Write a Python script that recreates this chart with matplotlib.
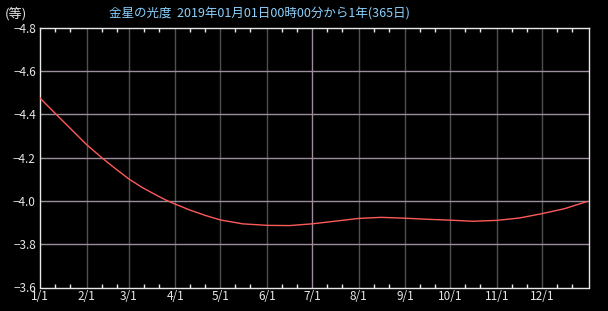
import numpy as np
import matplotlib
matplotlib.use("Agg")
import matplotlib.pyplot as plt

plt.rcParams['font.family'] = ['Noto Sans CJK JP', 'DejaVu Sans']

# day of year (0 = 1/1) and magnitude
days = [0, 10, 20, 31, 41, 50, 59, 68, 77, 84, 90, 100, 110, 120, 135,
        151, 166, 181, 196, 212, 227, 243, 258, 273, 288, 304, 319, 334,
        349, 364]
mag = [-4.475, -4.405, -4.336, -4.260, -4.200, -4.150, -4.102, -4.062,
       -4.028, -4.003, -3.985, -3.957, -3.933, -3.912, -3.894, -3.887,
       -3.886, -3.894, -3.906, -3.919, -3.924, -3.920, -3.915, -3.911,
       -3.906, -3.910, -3.921, -3.941, -3.964, -3.997]

month_days = [0, 31, 59, 90, 120, 151, 181, 212, 243, 273, 304, 334]
month_labels = ["1/1", "2/1", "3/1", "4/1", "5/1", "6/1", "7/1", "8/1",
                "9/1", "10/1", "11/1", "12/1"]
y_ticks = [-4.8, -4.6, -4.4, -4.2, -4.0, -3.8, -3.6]

W, H = 608, 311
fig = plt.figure(figsize=(W / 100, H / 100), dpi=100, facecolor='black')
ax = fig.add_axes([40 / W, (H - 287.5) / H, 548.5 / W, 259.8 / H])
ax.set_facecolor('black')

ax.set_xlim(0, 365)
ax.set_ylim(-3.6, -4.8)

# grid lines
for d in month_days[1:]:
    c = '#9c8c9c' if d == 181 else '#505050'
    ax.axvline(d, color=c, lw=1, zorder=1)
for v in y_ticks[1:-1]:
    ax.axhline(v, color='#9c8c9c', lw=1, zorder=1)

ax.plot(days, mag, color='#ff5a5a', lw=1, zorder=3)

for s in ax.spines.values():
    s.set_color('#e8e8e8')
    s.set_linewidth(1)

ax.set_xticks(month_days)
ax.set_xticklabels(month_labels)
ax.set_yticks(y_ticks)
ax.set_yticklabels(["\u22124.8", "\u22124.6", "\u22124.4", "\u22124.2",
                    "\u22124.0", "\u22123.8", "\u22123.6"])
minor = [d + k for d in month_days for k in (10, 20)]
ax.set_xticks(minor, minor=True)
ax.tick_params(axis='x', which='both', direction='in', top=True,
               colors='#e8e8e8', labelsize=8.5, length=3, width=1, pad=2)
ax.tick_params(axis='x', which='major', length=0)
ax.tick_params(axis='y', colors='#e8e8e8', labelsize=8.5, length=0, pad=3)

fig.text(5 / W, 1 - 14 / H, "(等)", color='#e8e8e8', fontsize=9.5,
         va='center', ha='left')
fig.text(109 / W, 1 - 14 / H,
         "金星の光度  2019年01月01日00時00分から1年(365日)",
         color='#8cd2ff', fontsize=9, va='center', ha='left')

fig.savefig("out.png", dpi=100, facecolor='black')
